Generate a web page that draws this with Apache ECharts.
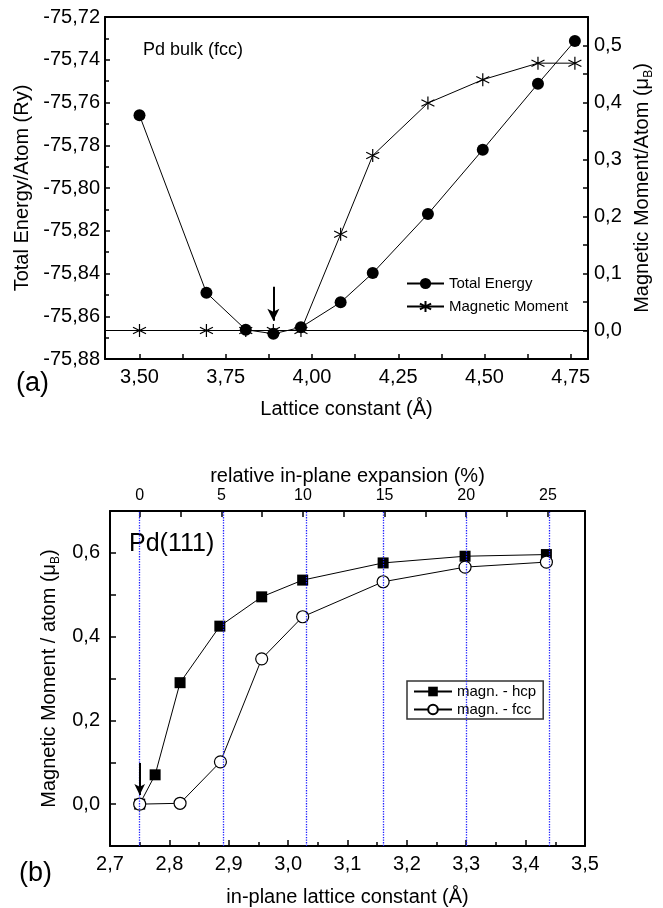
<!DOCTYPE html>
<html>
<head>
<meta charset="utf-8">
<script src="https://cdn.jsdelivr.net/npm/echarts@6/dist/echarts.min.js"></script>
<style>
html, body { margin: 0; padding: 0; background: #fff; }
#chart { width: 663px; height: 908px; }
</style>
</head>
<body>
<div id="chart"></div>
<script>
// (a) bulk Pd
var latticeBulk = [3.50, 3.694, 3.808, 3.888, 3.968, 4.083, 4.176, 4.336, 4.495, 4.655, 4.762];
var totalEnergy = [-75.766, -75.849, -75.8663, -75.8682, -75.8652, -75.8535, -75.8398, -75.8122, -75.7821, -75.7512, -75.7312];
var magMomentBulk = [0, 0, 0, 0, 0, 0.169, 0.307, 0.399, 0.440, 0.469, 0.469];
var bulkXLabels = [3.50, 3.75, 4.00, 4.25, 4.50, 4.75];
var bulkXTicks = [3.50, 3.625, 3.75, 3.875, 4.00, 4.125, 4.25, 4.375, 4.50, 4.625, 4.75];
var bulkMomLabels = [0, 0.1, 0.2, 0.3, 0.4, 0.5];
var bulkMomTicks = [0, 0.05, 0.1, 0.15, 0.2, 0.25, 0.3, 0.35, 0.4, 0.45, 0.5];
var eqLatticeBulk = 3.888;

// (b) Pd(111)
var latticeHcp = [2.75, 2.776, 2.818, 2.885, 2.9555, 3.0245, 3.160, 3.298, 3.435];
var momentHcp = [0, 0.070, 0.290, 0.425, 0.495, 0.535, 0.576, 0.592, 0.596];
var latticeFcc = [2.75, 2.818, 2.886, 2.9555, 3.0245, 3.160, 3.298, 3.435];
var momentFcc = [0, 0.002, 0.101, 0.347, 0.4475, 0.531, 0.566, 0.578];
var expansionLabels = [0, 5, 10, 15, 20, 25];
var expansionTicks = [0, 2.5, 5, 7.5, 10, 12.5, 15, 17.5, 20, 22.5, 25];
var momLabels111 = [0, 0.2, 0.4, 0.6];
var momTicks111 = [0, 0.1, 0.2, 0.3, 0.4, 0.5, 0.6];
var baseLattice = 2.75;

var FONT = 'Liberation Sans';
var BLACK = '#000';

function zip(xs, ys) {
    return xs.map(function (x, i) { return [x, ys[i]]; });
}
function comma(d) {
    return function (v) { return v.toFixed(d).replace('.', ','); };
}
function pctToLattice(p) {
    return baseLattice * (1 + p / 100);
}

var axisLine = { show: true, onZero: false, lineStyle: { color: BLACK, width: 2 } };
var labelStyle = { color: BLACK, fontFamily: FONT, fontSize: 20 };
var nameStyle = { color: BLACK, fontFamily: FONT, fontSize: 20 };
var muRich = {
    t: { color: BLACK, fontFamily: FONT, fontSize: 20, lineHeight: 24 },
    s: { color: BLACK, fontFamily: FONT, fontSize: 12, lineHeight: 10, verticalAlign: 'bottom' }
};
var starPath = 'path://M0,-10L0,10M-8.66,-5L8.66,5M-8.66,5L8.66,-5';

var chart = echarts.init(document.getElementById('chart'));

chart.setOption({
    animation: false,
    backgroundColor: '#fff',
    grid: [
        { left: 105, top: 17, width: 483, height: 342 },
        { left: 110, top: 511, width: 475, height: 336 }
    ],
    legend: [
        {
            data: ['Total Energy', 'Magnetic Moment'],
            orient: 'vertical',
            left: 401, top: 271,
            itemWidth: 37, itemHeight: 14, itemGap: 8,
            textStyle: { color: BLACK, fontFamily: FONT, fontSize: 15 }
        },
        {
            data: ['magn. - hcp', 'magn. - fcc'],
            orient: 'vertical',
            left: 407, top: 681,
            padding: [3, 7, 2, 6],
            itemWidth: 38, itemHeight: 12, itemGap: 3,
            backgroundColor: '#fff',
            borderColor: '#333', borderWidth: 1.5, borderRadius: 0,
            textStyle: { color: BLACK, fontFamily: FONT, fontSize: 15 }
        }
    ],
    xAxis: [
        {
            gridIndex: 0, type: 'value', position: 'bottom',
            min: 3.4, max: 4.8,
            axisLine: axisLine,
            axisTick: { inside: true, length: 5, lineStyle: { color: BLACK, width: 1.5 }, customValues: bulkXTicks },
            axisLabel: Object.assign({ margin: 8, formatter: comma(2), customValues: bulkXLabels }, labelStyle),
            splitLine: { show: false },
            name: 'Lattice constant (Å)', nameLocation: 'middle', nameGap: 40,
            nameTextStyle: nameStyle
        },
        {
            gridIndex: 0, type: 'value', position: 'top',
            min: 3.4, max: 4.8,
            axisLine: axisLine,
            axisTick: { show: false }, axisLabel: { show: false }, splitLine: { show: false }
        },
        {
            gridIndex: 1, type: 'value', position: 'bottom',
            min: 2.7, max: 3.5, interval: 0.1,
            axisLine: axisLine,
            axisTick: { inside: true, length: 6, lineStyle: { color: BLACK, width: 1.5 } },
            minorTick: { show: true, splitNumber: 2, length: 4, lineStyle: { color: BLACK, width: 1.5 } },
            axisLabel: Object.assign({ margin: 8, formatter: comma(1) }, labelStyle),
            splitLine: { show: false },
            name: 'in-plane lattice constant (Å)', nameLocation: 'middle', nameGap: 41,
            nameTextStyle: nameStyle
        },
        {
            gridIndex: 1, type: 'value', position: 'top',
            min: (2.7 / baseLattice - 1) * 100, max: (3.5 / baseLattice - 1) * 100,
            axisLine: axisLine,
            axisTick: { inside: true, length: 6, lineStyle: { color: BLACK, width: 1.5 }, customValues: expansionTicks },
            axisLabel: { color: BLACK, fontFamily: FONT, fontSize: 16, margin: 7, customValues: expansionLabels },
            splitLine: { show: false },
            name: 'relative in-plane expansion (%)', nameLocation: 'middle', nameGap: 25,
            nameTextStyle: nameStyle
        }
    ],
    yAxis: [
        {
            gridIndex: 0, type: 'value', position: 'left',
            min: -75.88, max: -75.72, interval: 0.02,
            axisLine: axisLine,
            axisTick: { inside: true, length: 5, lineStyle: { color: BLACK, width: 1.5 } },
            minorTick: { show: true, splitNumber: 2, length: 4, lineStyle: { color: BLACK, width: 1.5 } },
            axisLabel: Object.assign({ margin: 5, formatter: comma(2) }, labelStyle),
            splitLine: { show: false },
            name: 'Total Energy/Atom (Ry)', nameLocation: 'middle', nameGap: 68,
            nameTextStyle: nameStyle
        },
        {
            gridIndex: 0, type: 'value', position: 'right',
            min: -0.05, max: 0.55,
            axisLine: axisLine,
            axisTick: { inside: true, length: 5, lineStyle: { color: BLACK, width: 1.5 }, customValues: bulkMomTicks },
            axisLabel: Object.assign({ margin: 6, formatter: comma(1), customValues: bulkMomLabels }, labelStyle),
            splitLine: { show: false },
            name: '{t|Magnetic Moment/Atom (μ}{s|B}{t|)}', nameLocation: 'middle', nameGap: 42, nameRotate: 90,
            nameTextStyle: { rich: muRich }
        },
        {
            gridIndex: 1, type: 'value', position: 'left',
            min: -0.1, max: 0.7,
            axisLine: axisLine,
            axisTick: { inside: true, length: 6, lineStyle: { color: BLACK, width: 1.5 }, customValues: momTicks111 },
            axisLabel: Object.assign({ margin: 10, formatter: comma(1), customValues: momLabels111 }, labelStyle),
            splitLine: { show: false },
            name: '{t|Magnetic Moment / atom (μ}{s|B}{t|)}', nameLocation: 'middle', nameGap: 45,
            nameTextStyle: { rich: muRich }
        },
        {
            gridIndex: 1, type: 'value', position: 'right',
            min: -0.1, max: 0.7,
            axisLine: axisLine,
            axisTick: { show: false }, axisLabel: { show: false }, splitLine: { show: false }
        }
    ],
    series: [
        {
            name: 'Total Energy', type: 'line',
            xAxisIndex: 0, yAxisIndex: 0,
            data: zip(latticeBulk, totalEnergy),
            symbol: 'circle', symbolSize: 12,
            lineStyle: { color: BLACK, width: 1 },
            itemStyle: { color: BLACK },
            z: 3,
            markLine: {
                silent: true, animation: false,
                symbol: ['none', 'arrow'], symbolSize: [9, 12],
                label: { show: false },
                lineStyle: { color: BLACK, width: 2, type: 'solid' },
                data: [[{ coord: [eqLatticeBulk, -75.8462] }, { coord: [eqLatticeBulk, -75.8621] }]]
            }
        },
        {
            name: 'Magnetic Moment', type: 'line',
            xAxisIndex: 0, yAxisIndex: 1,
            data: zip(latticeBulk, magMomentBulk),
            symbol: starPath, symbolSize: 13,
            lineStyle: { color: BLACK, width: 1 },
            itemStyle: { color: BLACK, borderColor: BLACK, borderWidth: 1.2 },
            markLine: {
                silent: true, animation: false,
                symbol: ['none', 'none'],
                label: { show: false },
                lineStyle: { color: BLACK, width: 1.2, type: 'solid' },
                data: [{ yAxis: 0 }]
            }
        },
        {
            name: 'magn. - hcp', type: 'line',
            xAxisIndex: 2, yAxisIndex: 2,
            data: zip(latticeHcp, momentHcp),
            symbol: 'rect', symbolSize: 11,
            lineStyle: { color: BLACK, width: 1 },
            itemStyle: { color: BLACK },
            z: 3,
            markLine: {
                silent: true, animation: false,
                symbol: ['none', 'none'],
                label: { show: false },
                lineStyle: { color: '#1f1fff', width: 1.3, type: 'dotted', opacity: 1 },
                data: expansionLabels.map(function (p) { return { xAxis: pctToLattice(p) }; })
            }
        },
        {
            name: 'magn. - fcc', type: 'line',
            xAxisIndex: 2, yAxisIndex: 2,
            data: zip(latticeFcc, momentFcc),
            symbol: 'circle', symbolSize: 12,
            lineStyle: { color: BLACK, width: 1 },
            itemStyle: { color: '#fff', borderColor: BLACK, borderWidth: 1.2 },
            z: 4,
            markLine: {
                silent: true, animation: false,
                symbol: ['none', 'arrow'], symbolSize: [8, 11],
                label: { show: false },
                lineStyle: { color: BLACK, width: 2, type: 'solid' },
                data: [[{ coord: [baseLattice, 0.098] }, { coord: [baseLattice, 0.022] }]]
            }
        }
    ],
    graphic: [
        { type: 'text', x: 143, y: 50, style: { text: 'Pd bulk (fcc)', font: '18px "Liberation Sans"', fill: BLACK, verticalAlign: 'middle' } },
        { type: 'text', x: 129, y: 544, style: { text: 'Pd(111)', font: '25px "Liberation Sans"', fill: BLACK, verticalAlign: 'middle' } },
        { type: 'text', x: 16, y: 384, style: { text: '(a)', font: '27px "Liberation Sans"', fill: BLACK, verticalAlign: 'middle' } },
        { type: 'text', x: 19, y: 874, style: { text: '(b)', font: '27px "Liberation Sans"', fill: BLACK, verticalAlign: 'middle' } }
    ]
});
</script>
</body>
</html>
